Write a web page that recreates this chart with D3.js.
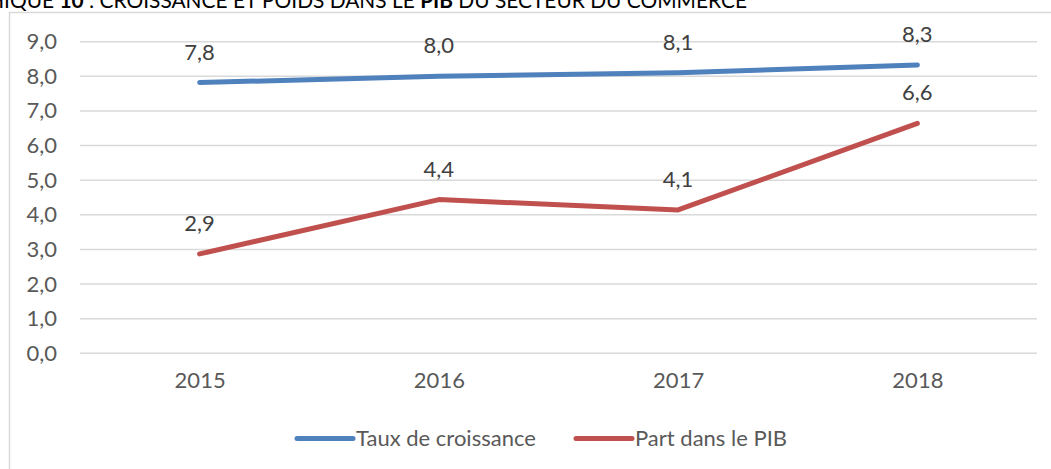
<!DOCTYPE html>
<html>
<head>
<meta charset="utf-8">
<script src="https://cdn.jsdelivr.net/npm/d3@7"></script>
<style>
  html, body { margin: 0; padding: 0; background: #fff; }
  svg { display: block; }
</style>
</head>
<body>
<svg id="chart"></svg>
<script>
const years = ['2015', '2016', '2017', '2018'];
const tauxCroissance = [7.82, 8.0, 8.1, 8.33];
const partPib = [2.87, 4.44, 4.14, 6.64];
const yTicks = [0, 1, 2, 3, 4, 5, 6, 7, 8, 9];
const seriesNames = ['Taux de croissance', 'Part dans le PIB'];

const opts = {
  width: 1051,
  height: 469,
  left: 80,
  right: 1037,
  top: 41.7,
  bottom: 353.3,
  font: 'Lato, "Open Sans", sans-serif',
  fontSize: 22,
  text: '#595959',
  grid: '#d9d9d9',
  colors: ['#4f81bd', '#c0504d'],
};

const svg = d3.select('#chart')
  .attr('width', opts.width)
  .attr('height', opts.height);

// frame of the chart area (right and bottom edges fall outside the picture)
svg.append('rect')
  .attr('x', 9.5)
  .attr('y', 12.5)
  .attr('width', 1100)
  .attr('height', 600)
  .attr('fill', '#fff')
  .attr('stroke', '#d9d9d9')
  .attr('stroke-width', 1.5);

// title, cut by the top and left edges like in the scan
const title = svg.append('text')
  .attr('x', 747)
  .attr('y', 8)
  .attr('text-anchor', 'end')
  .attr('font-family', 'Lato, "Open Sans", sans-serif')
  .attr('font-size', 20.9)
  .attr('fill', '#000');
title.append('tspan').text('GRAPHIQUE ');
title.append('tspan').attr('font-weight', 'bold').text('10');
title.append('tspan').text(' : CROISSANCE ET POIDS DANS LE ');
title.append('tspan').attr('font-weight', 'bold').text('PIB');
title.append('tspan').text(' DU SECTEUR DU COMMERCE');

const x = d3.scalePoint().domain(years).range([opts.left, opts.right]).padding(0.5);
const y = d3.scaleLinear().domain([0, 9]).range([opts.bottom, opts.top]);

const fmt = v => v.toFixed(1).replace('.', ',');

// gridlines
svg.append('g').selectAll('line').data(yTicks).enter()
  .append('line')
  .attr('x1', opts.left)
  .attr('x2', opts.right)
  .attr('y1', d => y(d))
  .attr('y2', d => y(d))
  .attr('stroke', opts.grid)
  .attr('stroke-width', 1.5);

// y axis labels
const yAxis = svg.append('g')
  .attr('transform', `translate(${opts.left - 16},0)`)
  .call(d3.axisLeft(y).tickValues(yTicks).tickFormat(fmt).tickSize(0).tickPadding(7));
yAxis.select('.domain').remove();
yAxis.selectAll('text')
  .attr('font-family', opts.font)
  .attr('font-size', opts.fontSize)
  .attr('fill', opts.text);

// x axis labels
const xAxis = svg.append('g')
  .attr('transform', `translate(0,${opts.bottom})`)
  .call(d3.axisBottom(x).tickSize(0).tickPadding(19));
xAxis.select('.domain').remove();
xAxis.selectAll('text')
  .attr('font-family', opts.font)
  .attr('font-size', opts.fontSize)
  .attr('fill', opts.text);

const series = [tauxCroissance, partPib];
const line = d3.line()
  .x((d, i) => x(years[i]))
  .y(d => y(d));

series.forEach((values, s) => {
  svg.append('path')
    .datum(values)
    .attr('d', line)
    .attr('fill', 'none')
    .attr('stroke', opts.colors[s])
    .attr('stroke-width', 5)
    .attr('stroke-linecap', 'round')
    .attr('stroke-linejoin', 'round');

  svg.append('g').selectAll('text').data(values).enter()
    .append('text')
    .attr('x', (d, i) => x(years[i]))
    .attr('y', d => y(d) - 23)
    .attr('text-anchor', 'middle')
    .attr('font-family', opts.font)
    .attr('font-size', opts.fontSize)
    .attr('fill', '#404040')
    .text(fmt);
});

// legend
const legendItems = [
  { name: seriesNames[0], x1: 297, x2: 353, color: opts.colors[0] },
  { name: seriesNames[1], x1: 576, x2: 632, color: opts.colors[1] },
];
const legendY = 438.5;
const legend = svg.append('g').selectAll('g').data(legendItems).enter().append('g');
legend.append('line')
  .attr('x1', d => d.x1)
  .attr('x2', d => d.x2)
  .attr('y1', legendY)
  .attr('y2', legendY)
  .attr('stroke', d => d.color)
  .attr('stroke-width', 5)
  .attr('stroke-linecap', 'round');
legend.append('text')
  .attr('x', d => d.x2 + 3)
  .attr('y', legendY)
  .attr('dy', '0.35em')
  .attr('font-family', opts.font)
  .attr('font-size', opts.fontSize)
  .attr('fill', opts.text)
  .text(d => d.name);
</script>
</body>
</html>
